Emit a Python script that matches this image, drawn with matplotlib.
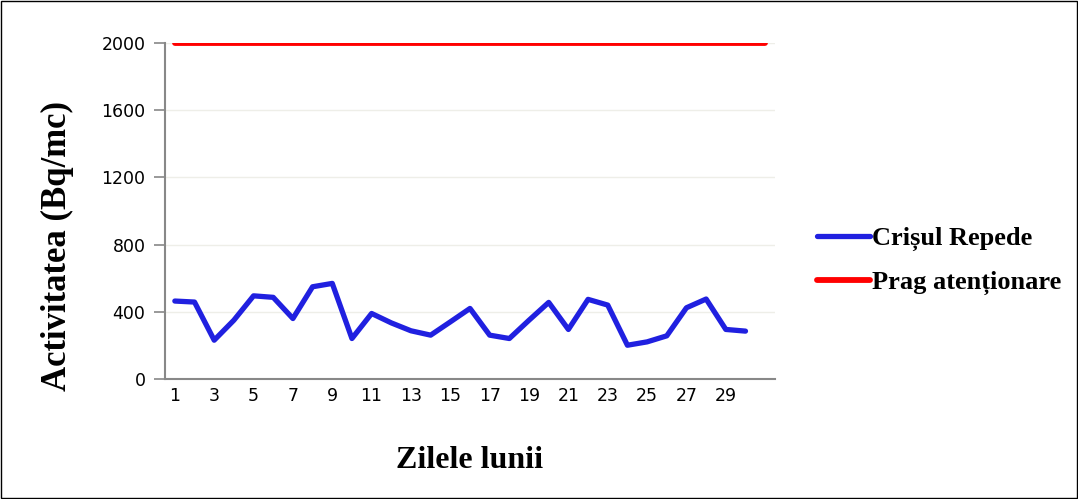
import matplotlib.pyplot as plt
from matplotlib.patches import Rectangle

days = list(range(1, 31))
crisul_repede = [464, 458, 231, 350, 495, 486, 360, 549, 569, 241,
                 390, 334, 287, 261, 340, 420, 261, 241, 350, 456,
                 295, 474, 440, 201, 221, 257, 424, 476, 295, 285]
prag_days = list(range(1, 32))
prag = [2000] * 31

fig = plt.figure(figsize=(10.78, 4.99), dpi=100)
ax = fig.add_axes([165 / 1078, 1 - 379 / 499, 610 / 1078, 336 / 499])

ax.plot(days, crisul_repede, color="#2020e0", lw=3.8, solid_capstyle="round",
        solid_joinstyle="round", label="Crișul Repede")
ax.plot(prag_days, prag, color="#ff0000", lw=4.2, solid_capstyle="round",
        label="Prag atenționare")

ax.set_xlim(0.5, 31.5)
ax.set_ylim(0, 2000)
ax.set_yticks(range(0, 2001, 400))
ax.set_xticks(range(1, 30, 2))
ax.tick_params(axis="x", length=0, pad=6, labelsize=12.5)
ax.tick_params(axis="y", length=8, width=1.2, color="#888888", pad=6, labelsize=12.5)
ax.grid(axis="y", color="#eeeee8", lw=1)
ax.set_axisbelow(True)
for s in ["top", "right"]:
    ax.spines[s].set_visible(False)
for s in ["left", "bottom"]:
    ax.spines[s].set_color("#888888")
    ax.spines[s].set_linewidth(1.5)

ax.set_xlabel("Zilele lunii", family="Liberation Serif", fontweight="bold",
              fontsize=23, labelpad=29)
ax.set_ylabel("Activitatea (Bq/mc)", family="Liberation Serif", fontweight="bold",
              fontsize=25)
ax.yaxis.set_label_coords(-0.15, 0.396)

fig.legend(loc="center left", bbox_to_anchor=(793 / 1078, 1 - 261 / 499),
           frameon=False, handlelength=2.0, handletextpad=0.1, labelspacing=0.75,
           prop={"family": "Liberation Serif", "weight": "bold", "size": 19})

fig.patches.append(Rectangle((0.001, 0.002), 0.998, 0.996, transform=fig.transFigure,
                             fill=False, edgecolor="black", lw=1))

plt.savefig("out.png", dpi=100)
